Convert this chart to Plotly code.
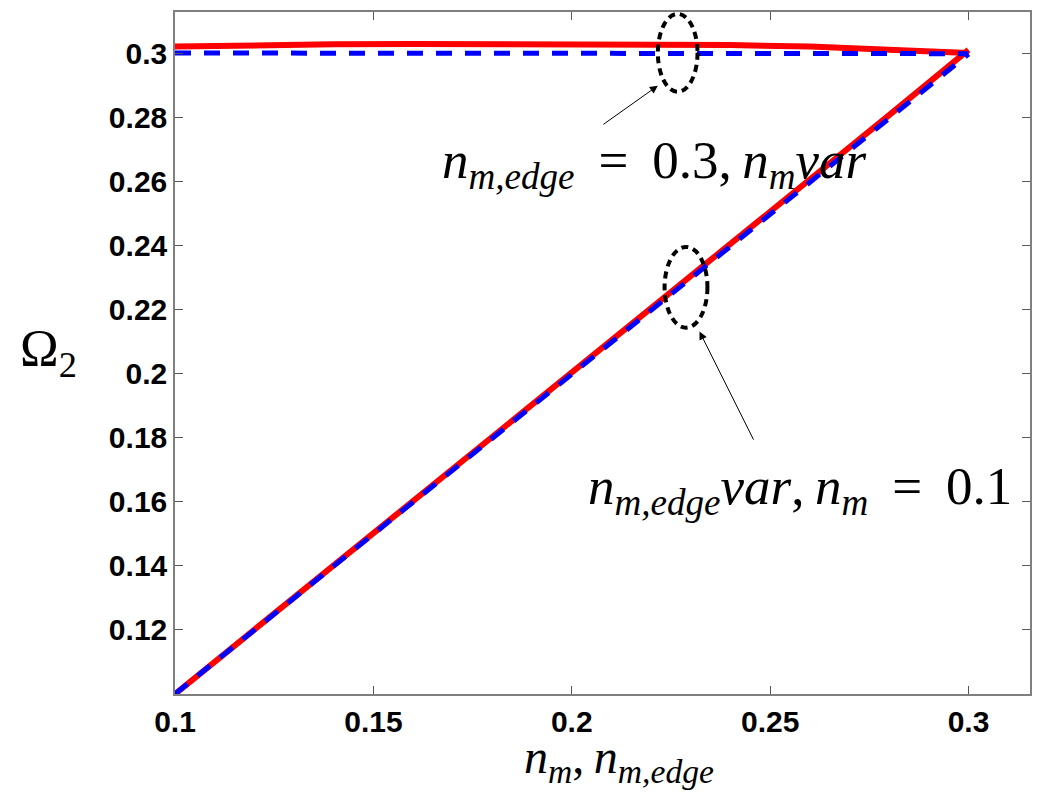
import plotly.graph_objects as go

# Sweep values for n_m (top curves) and n_m,edge (diagonal curves)
n_sweep = [0.10, 0.12, 0.14, 0.16, 0.18, 0.20, 0.22, 0.24, 0.26, 0.28, 0.30]

# Omega_2 with n_m,edge = 0.3 and n_m varied
omega_top_red = [0.3020, 0.3025, 0.3027, 0.3028, 0.3028, 0.3028, 0.3027, 0.3025, 0.3020, 0.3012, 0.3000]
omega_top_blue = [0.3000, 0.3000, 0.3000, 0.3000, 0.3000, 0.3000, 0.3000, 0.3000, 0.3000, 0.3000, 0.2998]

# Omega_2 with n_m = 0.1 and n_m,edge varied
omega_diag_red = [0.1000, 0.1200, 0.1400, 0.1601, 0.1801, 0.2001, 0.2202, 0.2403, 0.2604, 0.2806, 0.3010]
omega_diag_blue = [0.1000, 0.1199, 0.1398, 0.1598, 0.1797, 0.1997, 0.2196, 0.2395, 0.2595, 0.2796, 0.2997]

x_ticks = [0.1, 0.15, 0.2, 0.25, 0.3]
x_tick_text = ["0.1", "0.15", "0.2", "0.25", "0.3"]
y_ticks = [0.12, 0.14, 0.16, 0.18, 0.2, 0.22, 0.24, 0.26, 0.28, 0.3]
y_tick_text = ["0.12", "0.14", "0.16", "0.18", "0.2", "0.22", "0.24", "0.26", "0.28", "0.3"]

RED = "#ff0000"
BLUE = "#0000ff"

fig = go.Figure()
for ys in (omega_top_red, omega_diag_red):
    fig.add_trace(go.Scatter(x=n_sweep, y=ys, mode="lines",
                             line=dict(color=RED, width=6), showlegend=False))
for ys in (omega_top_blue, omega_diag_blue):
    fig.add_trace(go.Scatter(x=n_sweep, y=ys, mode="lines",
                             line=dict(color=BLUE, width=5, dash="16px,13px"),
                             showlegend=False))

axis_common = dict(
    showline=True, linecolor="#7f7f7f", linewidth=1.5, mirror="ticks",
    ticks="inside", ticklen=8, tickcolor="#555555", tickwidth=1,
    showgrid=False, zeroline=False,
    tickfont=dict(family="Liberation Sans, Arial, sans-serif", size=30, color="black", weight="bold"),
)

fig.update_xaxes(range=[0.1, 0.3155], tickvals=x_ticks, ticktext=x_tick_text, **axis_common)
fig.update_yaxes(range=[0.1, 0.3128], tickvals=y_ticks, ticktext=y_tick_text, **axis_common)

# Dashed ellipses marking each pair of curves
ellipse_line = dict(color="black", width=4, dash="7px,5px")
fig.add_shape(type="circle", xref="x", yref="y", x0=0.2217, x1=0.2317, y0=0.2879, y1=0.3122,
              line=ellipse_line)
fig.add_shape(type="circle", xref="x", yref="y", x0=0.2234, x1=0.2342, y0=0.2143, y1=0.2395,
              line=ellipse_line)

# Arrows pointing at the ellipses
fig.add_annotation(x=0.2217, y=0.2898, ax=0.2076, ay=0.2774, xref="x", yref="y",
                   axref="x", ayref="y", showarrow=True, arrowhead=2, arrowsize=1.6,
                   arrowwidth=1, arrowcolor="black", text="")
fig.add_annotation(x=0.2322, y=0.2131, ax=0.2460, ay=0.1789, xref="x", yref="y",
                   axref="x", ayref="y", showarrow=True, arrowhead=2, arrowsize=1.6,
                   arrowwidth=1, arrowcolor="black", text="")

serif = "Liberation Serif"
sp = "&#8201;"   # thin space around operators
fig.add_annotation(x=0.2209, y=0.2655, xref="x", yref="y", showarrow=False,
                   xanchor="center", yanchor="middle",
                   text=f"<i>n</i><sub><i>m,edge</i></sub> {sp}={sp} 0.3,{sp}<i>n</i><sub><i>m</i></sub><i>var</i>",
                   font=dict(family=serif, size=53, color="black"))
fig.add_annotation(x=0.2575, y=0.1635, xref="x", yref="y", showarrow=False,
                   xanchor="center", yanchor="middle",
                   text=f"<i>n</i><sub><i>m,edge</i></sub><i>var</i>,{sp}<i>n</i><sub><i>m</i></sub> {sp}={sp} 0.1",
                   font=dict(family=serif, size=53, color="black"))

# Axis titles
fig.add_annotation(x=48, y=352, xref="paper", yref="paper", showarrow=False,
                   xanchor="center", yanchor="middle",
                   text="Ω<sub>2</sub>", font=dict(family=serif, size=52, color="black"))
fig.add_annotation(x=620, y=760, xref="paper", yref="paper", showarrow=False,
                   xanchor="center", yanchor="middle",
                   text=f"<i>n</i><sub><i>m</i></sub>,{sp}<i>n</i><sub><i>m,edge</i></sub>",
                   font=dict(family=serif, size=48, color="black"))

fig.update_layout(
    width=1042, height=798,
    margin=dict(l=175, r=10, t=11, b=104),
    paper_bgcolor="white", plot_bgcolor="white",
)

# Place the axis-title annotations in pixel space
W, H = 1042, 798
L, R, T, B = 175, 10, 11, 104
for ann in fig.layout.annotations:
    if ann.xref == "paper":
        ann.x = (ann.x - L) / (W - L - R)
        ann.y = 1 - (ann.y - T) / (H - T - B)

fig.write_html("out.html")
